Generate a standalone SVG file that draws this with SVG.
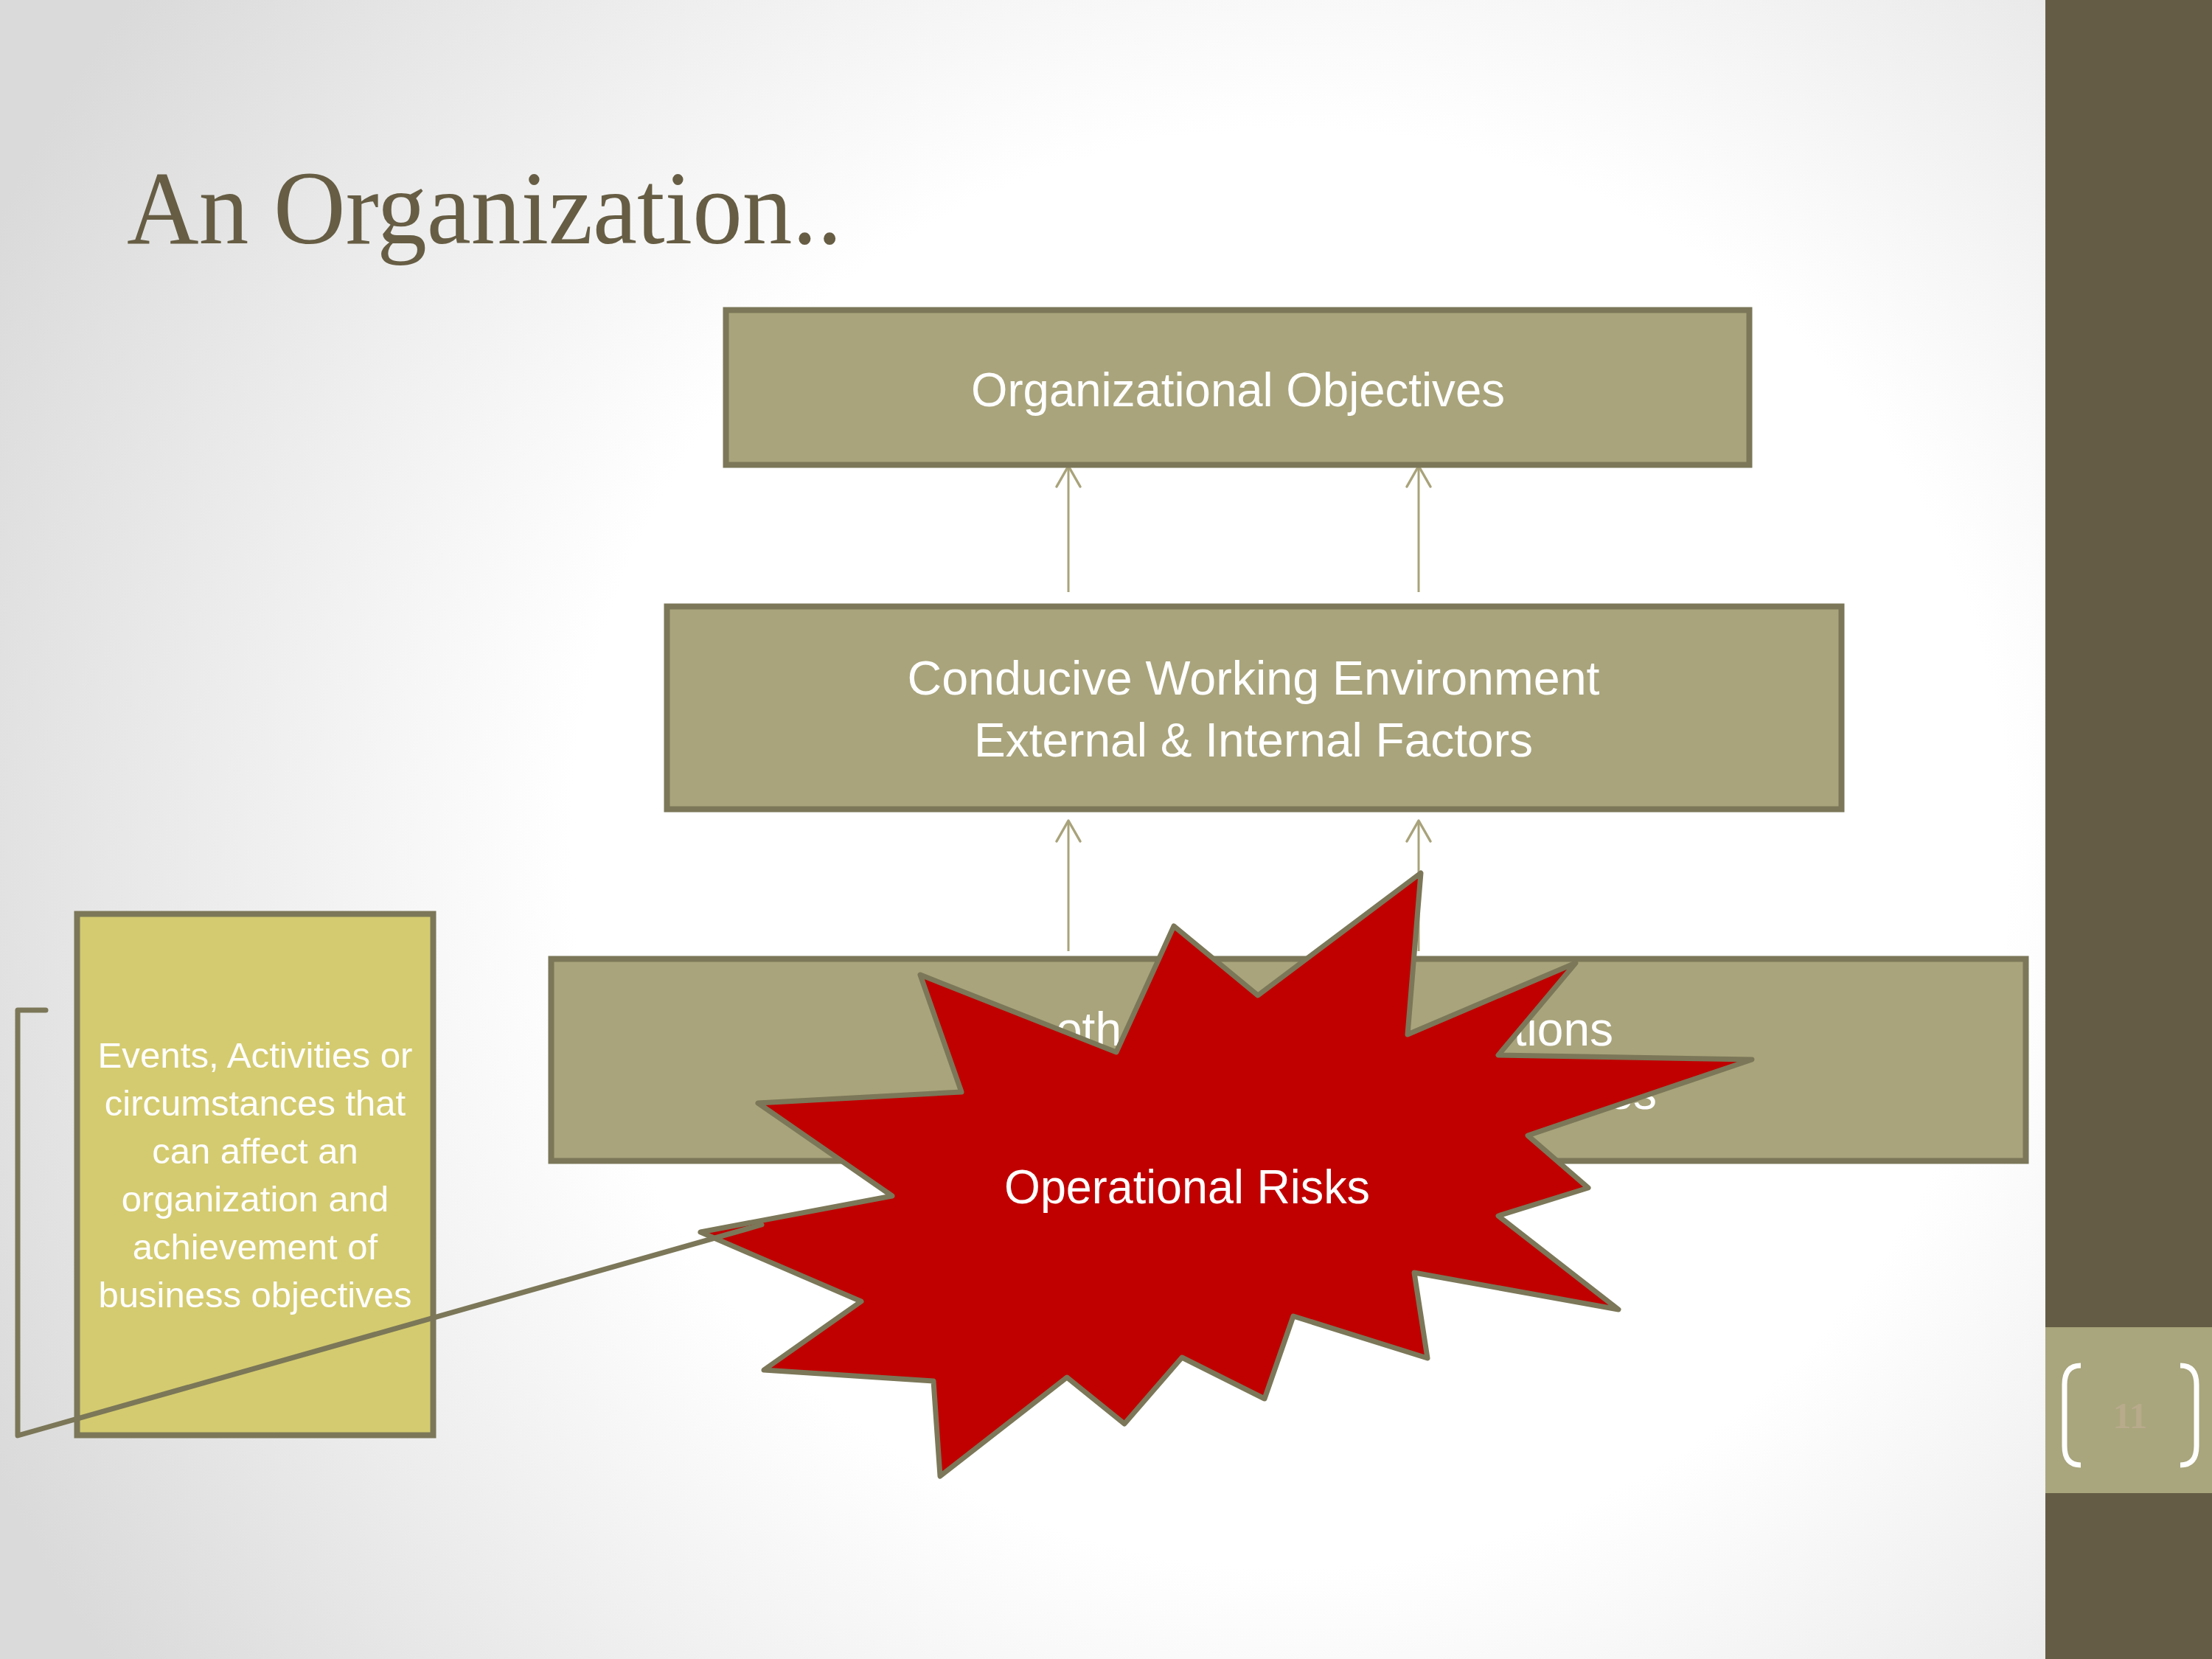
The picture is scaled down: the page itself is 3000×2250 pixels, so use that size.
<svg xmlns="http://www.w3.org/2000/svg" width="3000" height="2250" viewBox="0 0 3000 2250">
  <defs>
    <radialGradient id="bgGrad" gradientUnits="userSpaceOnUse" cx="1750" cy="1150" r="1950">
      <stop offset="0.5" stop-color="#FFFFFF"/>
      <stop offset="1" stop-color="#DADADA"/>
    </radialGradient>
    <marker id="openArrow" markerUnits="userSpaceOnUse" markerWidth="40" markerHeight="40" viewBox="-32 -20 36 40" refX="0" refY="0" orient="auto">
      <path d="M -28 -16 L 0 0 L -28 16" fill="none" stroke="#A9A37B" stroke-width="3.5" stroke-linecap="round" stroke-linejoin="round"/>
    </marker>
    <style>
      .box { fill: #A9A47B; stroke: #7B7758; stroke-width: 8; }
      .note { fill: #D4CB70; stroke: #7B7758; stroke-width: 8; }
      .label { font-family: "Liberation Sans", Arial, sans-serif; fill: #FFFFFF; text-anchor: middle; }
      .big { font-size: 64px; }
      .small { font-size: 49px; }
      .frag { font-family: "Liberation Sans", Arial, sans-serif; font-size: 64px; fill: #FFFFFF; }
      .link { fill: none; stroke: #A9A37B; stroke-width: 3; marker-end: url(#openArrow); }
      .callout { fill: none; stroke: #7B7758; stroke-width: 7; stroke-linejoin: round; stroke-linecap: round; }
      .burst { fill: #C00000; stroke: #7B7758; stroke-width: 7; stroke-linejoin: round; }
    </style>
  </defs>

  <!-- slide background -->
  <rect x="0" y="0" width="3000" height="2250" fill="url(#bgGrad)"/>

  <!-- right side band with page number tab -->
  <g id="side-band">
    <rect x="2774" y="0" width="226" height="2250" fill="#655C45"/>
    <rect x="2774" y="1800" width="226" height="225" fill="#A9A57C"/>
    <path d="M 2822 1852 C 2806 1852 2800 1862 2800 1878 L 2800 1961 C 2800 1977 2806 1987 2822 1987" fill="none" stroke="#FFFFFF" stroke-width="7"/>
    <path d="M 2957 1852 C 2973 1852 2979 1862 2979 1878 L 2979 1961 C 2979 1977 2973 1987 2957 1987" fill="none" stroke="#FFFFFF" stroke-width="7"/>
    <text x="2889" y="1937" font-family="Liberation Serif, serif" font-weight="bold" font-size="50" fill="#B8AB8C" text-anchor="middle">11</text>
  </g>

  <!-- title -->
  <text id="title" x="172" y="330" font-family="Liberation Serif, serif" font-size="142" fill="#665D44" textLength="970" lengthAdjust="spacingAndGlyphs">An Organization..</text>

  <!-- connectors -->
  <g id="connectors">
    <line class="link" x1="1449" y1="803" x2="1449" y2="632"/>
    <line class="link" x1="1924" y1="803" x2="1924" y2="632"/>
    <line class="link" x1="1449" y1="1290" x2="1449" y2="1113"/>
    <line class="link" x1="1924" y1="1290" x2="1924" y2="1113"/>
  </g>

  <g id="objectives">
    <rect class="box" x="984.5" y="420.5" width="1388" height="210"/>
    <text class="label big" x="1679" y="551" textLength="724" lengthAdjust="spacingAndGlyphs">Organizational Objectives</text>
  </g>

  <g id="environment">
    <rect class="box" x="904.5" y="822.5" width="1593" height="275"/>
    <text class="label big" x="1700" y="942" textLength="939" lengthAdjust="spacingAndGlyphs">Conducive Working Environment</text>
    <text class="label big" x="1700" y="1026" textLength="758" lengthAdjust="spacingAndGlyphs">External &amp; Internal Factors</text>
  </g>

  <g id="operations">
    <rect class="box" x="747.5" y="1300.5" width="2000" height="274"/>
    <text class="frag" x="1432" y="1418">oth</text>
    <text class="frag" x="2188" y="1418" text-anchor="end">tions</text>
    <text class="frag" x="2247" y="1504" text-anchor="end">es</text>
  </g>

  <g id="operational-risks">
    <polygon class="burst" points="1927,1184 1909,1403 2137,1306 2032,1431 2376,1437 2072,1540 2154,1611 2032,1649 2195,1776 1918,1726 1936,1842 1754,1785 1715,1897 1603,1841 1525,1931 1447,1868 1275,2002 1266,1873 1036,1858 1168,1765 950,1671 1210,1622 1028,1496 1304,1481 1248,1322 1514,1427 1592,1256 1706,1350"/>
    <text class="label big" x="1610" y="1632" textLength="496" lengthAdjust="spacingAndGlyphs">Operational Risks</text>
  </g>

  <g id="risk-definition">
    <rect class="note" x="104.5" y="1239.5" width="483" height="707"/>
    <text class="label small" x="346" y="1448" textLength="427" lengthAdjust="spacingAndGlyphs">Events, Activities or</text>
    <text class="label small" x="346" y="1513">circumstances that</text>
    <text class="label small" x="346" y="1578">can affect an</text>
    <text class="label small" x="346" y="1643">organization and</text>
    <text class="label small" x="346" y="1708">achievement of</text>
    <text class="label small" x="346" y="1773">business objectives</text>
  </g>

  <!-- bracket callout leader from the note to the burst -->
  <g id="callout-leader">
    <polyline class="callout" points="62,1370 24,1370 24,1947 1033,1661"/>
  </g>
</svg>
